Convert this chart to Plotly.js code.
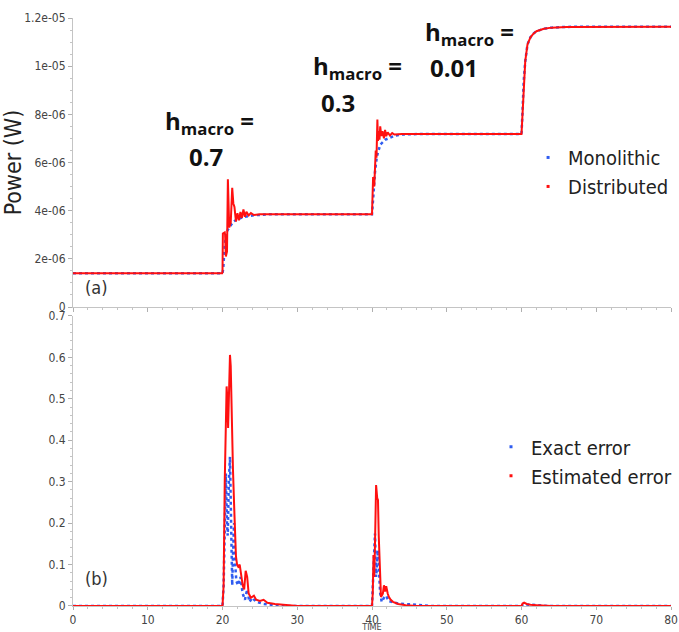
<!DOCTYPE html>
<html>
<head>
<meta charset="utf-8">
<script src="https://cdn.plot.ly/plotly-3.0.1.min.js"></script>
<style>html,body{margin:0;padding:0;background:#fff;}</style>
</head>
<body>
<div id="chart" style="width:679px;height:632px;"></div>
<script>
// ---- Panel (a): Power (W) vs TIME ----
const tMono = [0, 20, 20.1, 20.2, 20.3, 20.5, 20.7, 21.0, 21.5, 22, 23, 24, 25, 26, 40, 40.1, 40.2, 40.4, 40.65, 41.1, 41.8, 43.1, 44, 46, 60, 60.15, 60.3, 60.5, 60.8, 61.2, 61.6, 62, 63, 64, 66, 70, 80];
const pMono = [1.4e-6, 1.4e-6, 1.6e-6, 2.0e-6, 2.6e-6, 3.0e-6, 3.2e-6, 3.35e-6, 3.55e-6, 3.65e-6, 3.75e-6, 3.8e-6, 3.83e-6, 3.85e-6, 3.85e-6, 4.2e-6, 4.7e-6, 5.6e-6, 6.25e-6, 6.74e-6, 6.95e-6, 7.12e-6, 7.16e-6, 7.18e-6, 7.18e-6, 8.2e-6, 9.4e-6, 10.2e-6, 10.9e-6, 11.2e-6, 11.35e-6, 11.45e-6, 11.55e-6, 11.6e-6, 11.63e-6, 11.64e-6, 11.64e-6];

const tDist = [0, 19.95, 20.0, 20.05, 20.3, 20.35, 20.45, 20.6, 20.72, 20.8, 20.9, 21.1, 21.3, 21.45, 21.6, 21.8, 22.0, 22.2, 22.4, 22.6, 22.8, 23.0, 23.2, 23.5, 23.8, 24.2, 25, 40, 40.05, 40.15, 40.3, 40.4, 40.5, 40.6, 40.72, 40.8, 40.9, 41.0, 41.1, 41.25, 41.4, 41.6, 41.75, 41.9, 42.1, 42.4, 42.7, 43.0, 44, 60, 60.15, 60.3, 60.5, 60.8, 61.2, 61.6, 62, 63, 64, 66, 70, 80];
const pDist = [1.4e-6, 1.4e-6, 1.45e-6, 3.05e-6, 3.1e-6, 3.0e-6, 2.1e-6, 2.3e-6, 5.3e-6, 4.3e-6, 3.3e-6, 3.5e-6, 4.95e-6, 4.3e-6, 4.15e-6, 3.55e-6, 3.9e-6, 3.6e-6, 3.95e-6, 3.7e-6, 4.05e-6, 3.75e-6, 3.95e-6, 3.8e-6, 3.9e-6, 3.82e-6, 3.85e-6, 3.85e-6, 4.3e-6, 5.4e-6, 5.0e-6, 5.6e-6, 6.5e-6, 6.2e-6, 7.78e-6, 6.9e-6, 7.3e-6, 6.95e-6, 7.5e-6, 7.1e-6, 7.3e-6, 7.0e-6, 7.35e-6, 7.1e-6, 7.25e-6, 7.12e-6, 7.22e-6, 7.16e-6, 7.18e-6, 7.18e-6, 8.2e-6, 9.4e-6, 10.2e-6, 10.9e-6, 11.2e-6, 11.35e-6, 11.45e-6, 11.55e-6, 11.6e-6, 11.63e-6, 11.64e-6, 11.64e-6];

// ---- Panel (b): error vs TIME ----
const tExact = [0, 20.0, 20.15, 20.3, 20.45, 20.6, 20.7, 20.85, 21.0, 21.15, 21.3, 21.4, 21.55, 21.7, 21.85, 22.1, 22.4, 22.7, 23.0, 23.3, 23.6, 24, 24.5, 25.5, 27, 28, 40, 40.1, 40.25, 40.4, 40.55, 40.7, 40.8, 40.95, 41.1, 41.3, 41.6, 41.9, 42.2, 42.6, 43.5, 45, 47, 48, 60, 60.2, 60.5, 61, 62, 63.5, 80];
const eExact = [0, 0, 0.05, 0.25, 0.32, 0.2, 0.17, 0.3, 0.36, 0.2, 0.05, 0.12, 0.2, 0.1, 0.06, 0.05, 0.07, 0.03, 0.015, 0.04, 0.01, 0.02, 0.01, 0.005, 0.002, 0, 0, 0.04, 0.1, 0.175, 0.07, 0.1, 0.135, 0.08, 0.03, 0.01, 0.02, 0.025, 0.012, 0.01, 0.006, 0.004, 0.002, 0, 0, 0.004, 0.004, 0.003, 0.002, 0, 0];

const tEst = [0, 20.0, 20.15, 20.3, 20.55, 20.65, 20.75, 20.9, 21.0, 21.1, 21.25, 21.4, 21.6, 21.8, 21.95, 22.1, 22.3, 22.5, 22.7, 22.9, 23.1, 23.3, 23.5, 23.8, 24.2, 24.5, 25, 25.5, 26, 27, 28, 30, 40, 40.1, 40.2, 40.3, 40.4, 40.55, 40.7, 40.8, 40.9, 41.05, 41.2, 41.45, 41.6, 41.75, 41.9, 42.1, 42.25, 42.5, 42.8, 43.5, 44.5, 46, 60, 60.15, 60.35, 60.7, 61.2, 62, 63.5, 64, 80];
const eEst = [0, 0, 0.05, 0.3, 0.53, 0.5, 0.43, 0.55, 0.606, 0.58, 0.4, 0.33, 0.22, 0.12, 0.1, 0.095, 0.1, 0.075, 0.05, 0.04, 0.085, 0.07, 0.03, 0.02, 0.025, 0.015, 0.012, 0.015, 0.008, 0.005, 0.003, 0, 0, 0.03, 0.123, 0.07, 0.15, 0.292, 0.26, 0.256, 0.17, 0.087, 0.022, 0.03, 0.05, 0.035, 0.048, 0.03, 0.022, 0.015, 0.01, 0.005, 0.002, 0, 0, 0.006, 0.008, 0.005, 0.003, 0.002, 0.001, 0, 0];

// ---- tick labels ----
const powerTickVals = [0, 2e-6, 4e-6, 6e-6, 8e-6, 1e-5, 1.2e-5];
const powerTickText = ["0", "2e-06", "4e-06", "6e-06", "8e-06", "1e-05", "1.2e-05"];
const errTickVals = [0, 0.1, 0.2, 0.3, 0.4, 0.5, 0.6, 0.7];
const errTickText = ["0", "0.1", "0.2", "0.3", "0.4", "0.5", "0.6", "0.7"];
const timeTickVals = [0, 10, 20, 30, 40, 50, 60, 70, 80];
const timeTickText = ["0", "10", "20", "30", "40", "50", "60", "70", "80"];

const names = ["Monolithic", "Distributed", "Exact error", "Estimated error"];
const stepLabels = ["0.7", "0.3", "0.01"];

const RED = "#ff1010";
const BLUE = "#2f5cf0";
const FONT = "DejaVu Sans Condensed, DejaVu Sans, sans-serif";

const traces = [
  {x: tMono, y: pMono, xaxis: "x", yaxis: "y", mode: "lines", line: {color: BLUE, width: 2.5, dash: "dot"}, name: names[0], showlegend: false},
  {x: tDist, y: pDist, xaxis: "x", yaxis: "y", mode: "lines", line: {color: RED, width: 2}, name: names[1], showlegend: false},
  {x: tExact, y: eExact, xaxis: "x2", yaxis: "y2", mode: "lines", line: {color: BLUE, width: 2.5, dash: "dot"}, name: names[2], showlegend: false},
  {x: tEst, y: eEst, xaxis: "x2", yaxis: "y2", mode: "lines", line: {color: RED, width: 2}, name: names[3], showlegend: false},
  // legend entries (small square markers, like the original)
  {x: [null], y: [null], xaxis: "x", yaxis: "y", mode: "markers", marker: {color: BLUE, symbol: "square", size: 3}, name: names[0], legend: "legend"},
  {x: [null], y: [null], xaxis: "x", yaxis: "y", mode: "markers", marker: {color: RED, symbol: "square", size: 3}, name: names[1], legend: "legend"},
  {x: [null], y: [null], xaxis: "x2", yaxis: "y2", mode: "markers", marker: {color: BLUE, symbol: "square", size: 3}, name: names[2], legend: "legend2"},
  {x: [null], y: [null], xaxis: "x2", yaxis: "y2", mode: "markers", marker: {color: RED, symbol: "square", size: 3}, name: names[3], legend: "legend2"}
];

const axisCommon = {
  showline: true, linecolor: "#c4c4c4", linewidth: 1,
  ticks: "outside", ticklen: 4, tickcolor: "#b0b0b0", tickwidth: 1,
  showgrid: false, zeroline: false,
  tickfont: {family: FONT, size: 12, color: "#444"}
};

const hFont = {family: "Open Sans, Noto Sans, sans-serif", size: 24, color: "#111", weight: "bold"};
const hLine = "<b>h<sub>macro</sub> =</b>";

function stepNote(x, y, text) {
  return {xref: "x", yref: "y", x: x, y: y, xanchor: "center", yanchor: "middle", showarrow: false, text: text, font: hFont};
}

const layout = {
  width: 679, height: 632,
  margin: {l: 73, r: 2, t: 18, b: 26},
  paper_bgcolor: "#fff", plot_bgcolor: "#fff",
  font: {family: FONT},
  xaxis: Object.assign({}, axisCommon, {domain: [0, 1], range: [0, 80], anchor: "y", showticklabels: false,
    tickvals: timeTickVals, minor: {dtick: 2, ticklen: 2, tickcolor: "#c4c4c4", ticks: "outside"}}),
  yaxis: Object.assign({}, axisCommon, {domain: [0.5085, 1], range: [0, 1.2e-5], anchor: "x",
    tickvals: powerTickVals, ticktext: powerTickText,
    minor: {dtick: 5e-7, ticklen: 2, tickcolor: "#c4c4c4", ticks: "outside"},
    title: {text: "Power (W)", font: {family: FONT, size: 23, color: "#222"}, standoff: 0}}),
  xaxis2: Object.assign({}, axisCommon, {domain: [0, 1], range: [0, 80], anchor: "y2",
    tickvals: timeTickVals, ticktext: timeTickText, ticklen: 3,
    minor: {dtick: 2, ticklen: 2, tickcolor: "#c4c4c4", ticks: "outside"},
    title: {text: "TIME", font: {family: FONT, size: 9, color: "#444"}, standoff: 1}}),
  yaxis2: Object.assign({}, axisCommon, {domain: [0, 0.4932], range: [0, 0.7], anchor: "x2",
    tickvals: errTickVals, ticktext: errTickText,
    minor: {dtick: 0.02, ticklen: 2, tickcolor: "#c4c4c4", ticks: "outside"}}),
  legend: {x: 0.761, y: 0.796, xanchor: "left", yanchor: "top", bgcolor: "rgba(0,0,0,0)",
    font: {family: FONT, size: 20, color: "#222"}, itemwidth: 30, tracegroupgap: 0},
  legend2: {x: 0.699, y: 0.304, xanchor: "left", yanchor: "top", bgcolor: "rgba(0,0,0,0)",
    font: {family: FONT, size: 20, color: "#222"}, itemwidth: 30, tracegroupgap: 0},
  annotations: [
    stepNote(18.28, 7.7e-6, hLine),
    stepNote(17.75, 6.24e-6, "<b>" + stepLabels[0] + "</b>"),
    stepNote(38.0, 9.95e-6, hLine),
    stepNote(35.5, 8.49e-6, "<b>" + stepLabels[1] + "</b>"),
    stepNote(52.98, 11.37e-6, hLine),
    stepNote(51.0, 9.95e-6, "<b>" + stepLabels[2] + "</b>"),
    {xref: "paper", yref: "paper", x: 0.016, y: 0.541, xanchor: "left", yanchor: "middle", showarrow: false,
      text: "(a)", font: {family: FONT, size: 18, color: "#333"}},
    {xref: "paper", yref: "paper", x: 0.016, y: 0.0476, xanchor: "left", yanchor: "middle", showarrow: false,
      text: "(b)", font: {family: FONT, size: 18, color: "#333"}}
  ]
};

Plotly.newPlot("chart", traces, layout, {displayModeBar: false, staticPlot: true});
</script>
</body>
</html>
